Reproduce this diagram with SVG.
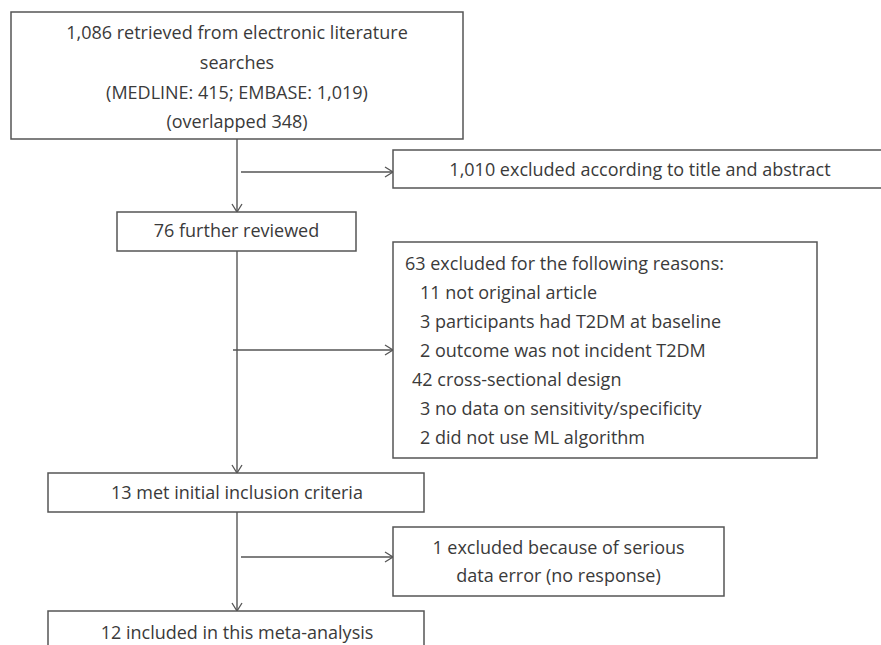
<svg xmlns="http://www.w3.org/2000/svg" width="881" height="645" viewBox="0 0 881 645">
<defs>
<marker id="arr" markerWidth="12" markerHeight="12" refX="10" refY="6" orient="auto" markerUnits="userSpaceOnUse">
<path d="M2,1 L10,6 L2,11" fill="none" stroke="#555" stroke-width="1.3"/>
</marker>
<style>
.box{fill:#fff;stroke:#555;stroke-width:1.5}
.t{font-family:"Open Sans","Liberation Sans",sans-serif;font-size:18px;font-weight:400;fill:#3a3a3a}
.m{text-anchor:middle}
.c{fill:none;stroke:#555;stroke-width:1.4}
</style>
</defs>
<rect width="881" height="645" fill="#fff"/>
<g id="connectors">
<line class="c" x1="237" y1="139" x2="237" y2="212" marker-end="url(#arr)"/>
<line class="c" x1="241" y1="172" x2="393" y2="172" marker-end="url(#arr)"/>
<line class="c" x1="237" y1="251" x2="237" y2="473" marker-end="url(#arr)"/>
<line class="c" x1="233" y1="350" x2="393" y2="350" marker-end="url(#arr)"/>
<line class="c" x1="237" y1="512" x2="237" y2="611" marker-end="url(#arr)"/>
<line class="c" x1="241" y1="557" x2="393" y2="557" marker-end="url(#arr)"/>
</g>
<g id="retrieved">
<rect class="box" x="11" y="12" width="452" height="127"/>
<text class="t m" x="237" y="39">1,086 retrieved from electronic literature</text>
<text class="t m" x="237" y="69">searches</text>
<text class="t m" x="237" y="98.5">(MEDLINE: 415; EMBASE: 1,019)</text>
<text class="t m" x="237" y="128">(overlapped 348)</text>
</g>
<g id="excluded1010">
<rect class="box" x="393" y="150" width="495" height="38"/>
<text class="t m" x="640" y="176">1,010 excluded according to title and abstract</text>
</g>
<g id="reviewed">
<rect class="box" x="117" y="212" width="239" height="39"/>
<text class="t m" x="236.5" y="237">76 further reviewed</text>
</g>
<g id="excluded63">
<rect class="box" x="393" y="242" width="424" height="216"/>
<text class="t" x="405" y="269.5">63 excluded for the following reasons:</text>
<text class="t" x="420" y="298.5">11 not original article</text>
<text class="t" x="420" y="327.5">3 participants had T2DM at baseline</text>
<text class="t" x="420" y="356.5">2 outcome was not incident T2DM</text>
<text class="t" x="412" y="385.5">42 cross-sectional design</text>
<text class="t" x="420" y="414.5">3 no data on sensitivity/specificity</text>
<text class="t" x="420" y="443.5">2 did not use ML algorithm</text>
</g>
<g id="met">
<rect class="box" x="48" y="473" width="376" height="39"/>
<text class="t m" x="237" y="498.5">13 met initial inclusion criteria</text>
</g>
<g id="excluded1">
<rect class="box" x="393" y="527" width="331" height="69"/>
<text class="t m" x="558.5" y="553.5">1 excluded because of serious</text>
<text class="t m" x="558.5" y="581.5">data error (no response)</text>
</g>
<g id="included">
<rect class="box" x="48" y="611" width="376" height="50"/>
<text class="t m" x="237" y="638.5">12 included in this meta-analysis</text>
</g>
</svg>
